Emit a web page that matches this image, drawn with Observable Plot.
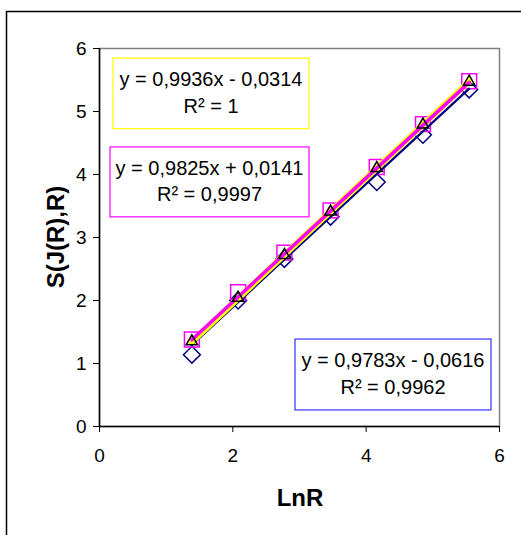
<!DOCTYPE html>
<html>
<head>
<meta charset="utf-8">
<script src="https://cdn.jsdelivr.net/npm/d3@7"></script>
<script src="https://cdn.jsdelivr.net/npm/@observablehq/plot@0.6"></script>
<style>
  html, body { margin: 0; padding: 0; background: #fff; }
  #chart { width: 521px; height: 535px; overflow: hidden; }
  svg { font-family: "Liberation Sans", Arial, sans-serif; }
</style>
</head>
<body>
<div id="chart"></div>
<script>
// Data
const lnR = [1.386, 2.079, 2.773, 3.466, 4.159, 4.852, 5.545];
const diamondValues = [1.14, 2.0, 2.66, 3.33, 3.88, 4.63, 5.35];
const triangleValues = [1.35, 2.04, 2.72, 3.41, 4.10, 4.79, 5.47];
const squareValues = [1.38, 2.13, 2.76, 3.43, 4.12, 4.80, 5.48];
const seriesNames = ["diamond", "triangle", "square"];
const fitSlopes = [0.9783, 0.9936, 0.9825];
const fitIntercepts = [-0.0616, -0.0314, 0.0141];
const fitLabels = ["y = 0,9783x - 0,0616", "y = 0,9936x - 0,0314", "y = 0,9825x + 0,0141"];
const r2Labels = ["R² = 0,9962", "R² = 1", "R² = 0,9997"];
const xTicks = [0, 2, 4, 6];
const yTicks = [0, 1, 2, 3, 4, 5, 6];

const pts = (vals) => lnR.map((x, i) => ({x, y: vals[i]}));
const fitLine = (k) => [lnR[0], lnR[lnR.length - 1]].map(x => ({x, y: fitSlopes[k] * x + fitIntercepts[k]}));

const font = "Liberation Sans, Arial, sans-serif";
const fmt = d3.format("d");

const chart = Plot.plot({
  width: 521,
  height: 535,
  marginLeft: 99,
  marginRight: 22,
  marginTop: 48,
  marginBottom: 109,
  style: {fontFamily: font, background: "#fff"},
  x: {domain: [0, 6], label: null},
  y: {domain: [0, 6], label: null},
  marks: [
    Plot.frame({stroke: "#808080", strokeWidth: 1.5}),
    Plot.axisX({ticks: xTicks, tickFormat: fmt, tickSize: 6, tickPadding: 16, fontSize: 19, label: null, stroke: "#000"}),
    Plot.axisY({ticks: yTicks, tickFormat: fmt, tickSize: 6, tickPadding: 7, fontSize: 19, label: null, stroke: "#000"}),
    Plot.ruleX([0], {stroke: "#000", strokeWidth: 1.5}),
    Plot.ruleY([0], {stroke: "#000", strokeWidth: 1.5}),
    // markers
    Plot.dot(pts(diamondValues), {x: "x", y: "y", symbol: "diamond2", r: 7.6, stroke: "#000080", strokeWidth: 1.5, fill: "none"}),
    Plot.dot(pts(squareValues), {x: "x", y: "y", symbol: "square", r: 8.4, stroke: "#ff00ff", strokeWidth: 1.5, fill: "none"}),
    // trendlines
    Plot.line(fitLine(0), {x: "x", y: "y", stroke: "#000080", strokeWidth: 2.2}),
    Plot.line(fitLine(1), {x: "x", y: "y", stroke: "#ffff00", strokeWidth: 6}),
    Plot.line(fitLine(2), {x: "x", y: "y", stroke: "#ff00ff", strokeWidth: 3.5}),
    Plot.dot(pts(triangleValues), {x: "x", y: "y", symbol: "triangle2", r: 5.5, stroke: "#000", strokeWidth: 1.5, fill: "none"}),
  ]
});

document.getElementById("chart").appendChild(chart);

// Decorations: outer frame, equation boxes, axis titles
const svg = d3.select(chart);
svg.insert("rect", ":first-child")
  .attr("x", 6.5).attr("y", 11.5).attr("width", 600).attr("height", 600)
  .attr("fill", "#fff").attr("stroke", "#000").attr("stroke-width", 1.5);

const xs = d3.scaleLinear().domain([0, 6]).range([99, 499]);
const ys = d3.scaleLinear().domain([0, 6]).range([426, 48]);

const boxes = [
  {k: 1, color: "#ffff00", x1: 0.21, x2: 3.15, y1: 5.84, y2: 4.72},
  {k: 2, color: "#ff00ff", x1: 0.165, x2: 3.15, y1: 4.43, y2: 3.32},
  {k: 0, color: "#3333ff", x1: 2.94, x2: 5.88, y1: 1.38, y2: 0.255}
];
const g = svg.append("g");
boxes.forEach(b => {
  const X1 = xs(b.x1), X2 = xs(b.x2), Y1 = ys(b.y1), Y2 = ys(b.y2);
  g.append("rect").attr("x", X1).attr("y", Y1).attr("width", X2 - X1).attr("height", Y2 - Y1)
    .attr("fill", "#fff").attr("stroke", b.color).attr("stroke-width", 1.2);
  const cx = (X1 + X2) / 2, h = Y2 - Y1;
  g.append("text").attr("x", cx).attr("y", Y1 + h * 0.3).attr("text-anchor", "middle")
    .attr("dominant-baseline", "central").attr("font-size", 20).attr("fill", "#000").text(fitLabels[b.k]);
  g.append("text").attr("x", cx).attr("y", Y1 + h * 0.68).attr("text-anchor", "middle")
    .attr("dominant-baseline", "central").attr("font-size", 20).attr("fill", "#000").text(r2Labels[b.k]);
});

svg.append("text").attr("x", 300).attr("y", 497).attr("text-anchor", "middle")
  .attr("dominant-baseline", "central").attr("font-size", 24).attr("font-weight", "bold").text("LnR");
svg.append("text").attr("transform", "translate(55,237) rotate(-90)").attr("text-anchor", "middle")
  .attr("dominant-baseline", "central").attr("font-size", 24).attr("font-weight", "bold").text("S(J(R),R)");
</script>
</body>
</html>
